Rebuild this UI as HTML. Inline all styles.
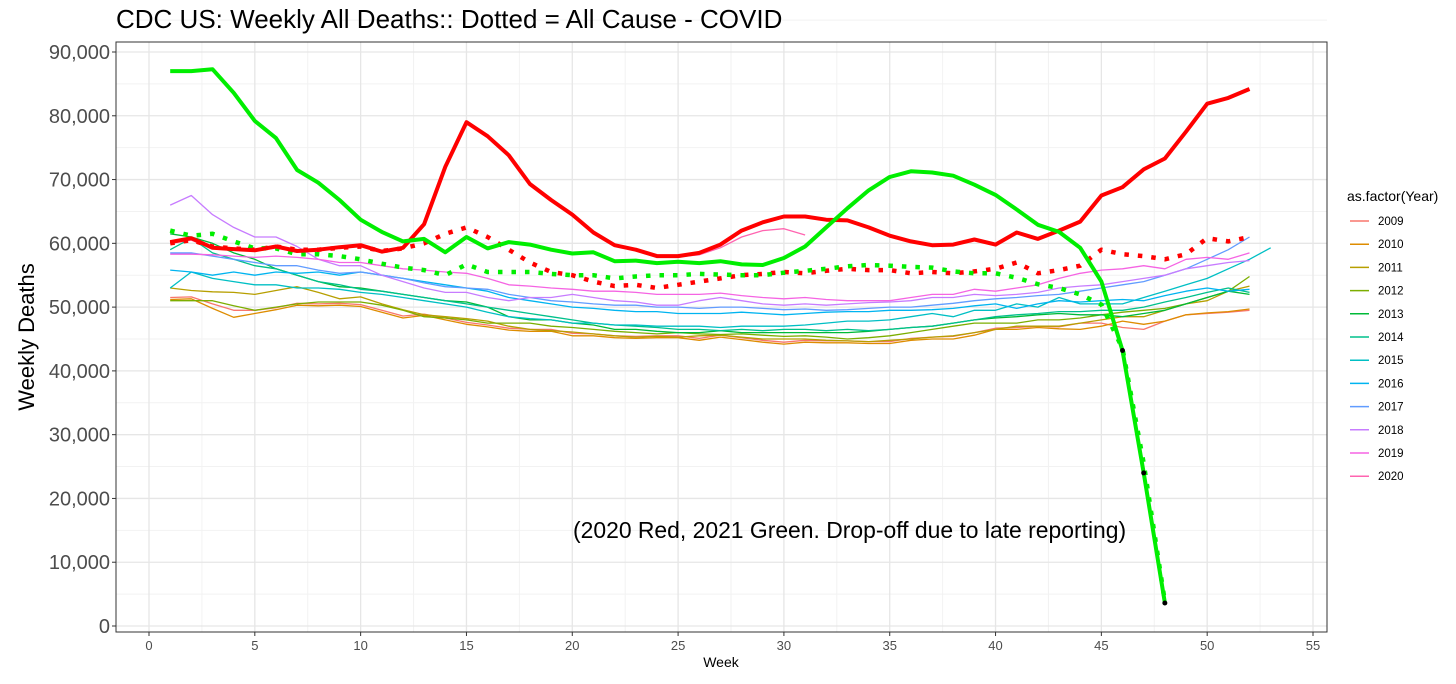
<!DOCTYPE html>
<html><head><meta charset="utf-8"><style>
body{margin:0;background:#fff;font-family:"Liberation Sans",sans-serif;}
svg text{font-family:"Liberation Sans",sans-serif;}
</style></head><body>
<svg id="c" width="1456" height="679" xmlns="http://www.w3.org/2000/svg"></svg>
<script>
const years=["2009","2010","2011","2012","2013","2014","2015","2016","2017","2018","2019","2020"];
const colors=["#F8766D","#DE8C00","#B79F00","#7CAE00","#00BA38","#00C08B","#00BFC4","#00B4F0","#619CFF","#C77CFF","#F564E3","#FF64B0"];
const y2009=[51.5,51.6,50.5,49.5,49.5,49.9,50.6,50.5,50.6,50.4,49.5,48.6,48.9,48.3,47.6,47.2,46.7,46.5,46.5,45.9,45.8,45.5,45.4,45.5,45.5,45.1,45.6,45.2,44.8,44.5,44.8,44.7,44.7,44.6,44.6,45.1,45.3,45.4,46,46.7,46.8,47,46.9,47.5,47.5,46.8,46.5,47.8,48.8,49,49.2,49.5];
const y2010=[51.2,51.3,49.8,48.4,49,49.6,50.3,50.2,50.3,50.1,49.2,48.3,48.7,48,47.3,46.9,46.4,46.2,46.2,45.5,45.5,45.2,45.1,45.2,45.2,44.8,45.3,44.9,44.5,44.2,44.5,44.4,44.4,44.3,44.3,44.8,45,45,45.6,46.5,46.5,46.8,46.6,46.5,47,47.8,47.3,47.8,48.8,49.1,49.3,49.7];
const y2011=[53,52.6,52.4,52.3,52,52.6,53.2,52.3,51.3,51.6,50.5,49.6,48.8,48.5,48.2,47.8,47,46.5,46.3,46.1,45.8,45.5,45.3,45.4,45.3,45.5,45.6,45.3,45,45,45,44.8,44.7,44.6,44.8,45,45.3,45.5,46,46.5,47,47,47,47.5,48,48.5,48.5,49.5,50.5,51,52.5,53.3];
const y2012=[51,51,51,50.2,49.5,50,50.5,50.8,50.8,50.8,50.3,49.5,48.5,48.3,48,47.5,47.5,47.5,47,46.8,46.5,46.2,46,45.8,46,45.8,45.7,45.8,45.6,45.4,45.5,45.3,45,45.2,45.5,46,46.5,47,47.5,47.5,47.5,48,48,48.3,48.8,49.2,49.5,49.8,50.5,51.5,52.5,54.8];
const y2013=[61.5,61,60,58.5,57.5,56,55,54,53.2,53,52.5,52,51.5,51,50.8,50,48.5,48,48,47.5,47.2,46.5,46.5,46.2,46,46,46.3,46,46,46,46,46,46,46.2,46.5,46.8,47,47.5,48,48.3,48.5,48.8,49,48.8,48.8,48.5,49,49.5,50.5,51.5,52.5,52];
const y2014=[59,60.8,58.5,57.5,56.5,56,55,54,53.5,52.8,52.5,52,51.5,51,50.5,50,49.5,49,48.5,48,47.5,47.2,47,46.8,46.5,46.5,46.3,46.5,46.3,46.5,46.5,46.3,46.5,46.3,46.5,46.8,47,47.5,48,48.5,48.8,49,49.3,49.3,49.5,49.5,50,50.8,51.5,52.3,53,52.3];
const y2015=[53,55.5,54.5,54,53.5,53.5,53,53,52.8,52.3,52,51.5,51,50.5,50,49.2,48.5,48.2,48,47.5,47.5,47.2,47.2,47,47,47,46.8,47,47,47,47.2,47.5,47.8,47.8,48,48.5,49,48.5,49.5,49.5,50.5,50,51.5,50.5,50.5,50.5,51.5,52.5,53.5,54.5,56,57.5,59.3];
const y2016=[55.8,55.5,55,55.5,55,55.5,55.3,55.5,55,55.5,55,54.5,54,53.5,53,52.5,51.5,51,50.5,50,49.8,49.5,49.3,49.3,49,49,49,49.2,49,48.8,49,49.2,49.3,49.3,49.5,49.5,49.6,49.8,50.2,50.5,49.8,50.5,51,50.8,51,51.2,51,51.8,52.5,53,52.5,52.8];
const y2017=[58.5,58.5,58,57.5,57,56.5,56.5,55.8,55.3,55.5,55,54.5,53.8,53.2,53,52.8,52,51.5,51,50.8,50.5,50.3,50.3,50,50,49.8,50,50,49.8,49.6,49.7,49.5,49.6,49.8,50,50,50.3,50.6,51,51.3,51.5,51.8,52,52.5,53,53.5,54,55,56,57.5,59,61];
const y2018=[66,67.5,64.5,62.5,61,61,59.5,57.5,56.5,56.5,55,54,53,52.3,52.3,51.5,51,51.5,51.5,52,51.5,51,50.8,50.3,50.3,51,51.5,51,50.5,50.3,50.5,50.3,50.5,50.7,50.8,51,51.5,51.5,52,51.8,52,52.3,53,53.3,53.5,54,54.5,55,56,56.5,57,57.3];
const y2019=[58.3,58.3,58.2,58,57.8,58,57.8,57.5,57,57,56.5,56,55.8,55.5,55.3,54.5,53.5,53.3,53,52.8,52.5,52.5,52.3,52,52,52,52.2,51.8,51.5,51.3,51.5,51.2,51,51,51,51.5,52,52,52.8,52.5,53,53.5,54.5,55.3,55.8,56,56.5,56,57.5,57.8,57.5,58.5];
const y2020thin=[60,60.5,59.2,59,58.8,59.3,58.7,58.9,59.3,59.6,58.6,59.2,62.8,71.8,78.8,76.6,73.6,69.2,66.7,64.3,61.6,59.6,58.9,57.9,57.9,58.2,59.3,61,62,62.3,61.3];
const thinSeries=[y2009,y2010,y2011,y2012,y2013,y2014,y2015,y2016,y2017,y2018,y2019,y2020thin];
const red2020=[60.2,60.8,59.3,59.1,58.9,59.5,58.8,59,59.4,59.7,58.7,59.3,63,72,79,76.8,73.8,69.3,66.8,64.5,61.7,59.7,59,58,58,58.5,59.8,62,63.3,64.2,64.2,63.7,63.6,62.5,61.2,60.3,59.7,59.8,60.6,59.8,61.7,60.7,62,63.4,67.5,68.8,71.6,73.3,77.5,81.9,82.8,84.2];
const green2021=[87,87,87.3,83.6,79.2,76.5,71.5,69.5,66.8,63.7,61.8,60.3,60.7,58.6,61,59.2,60.2,59.8,59,58.4,58.6,57.2,57.3,56.9,57.1,56.9,57.2,56.7,56.6,57.7,59.5,62.5,65.5,68.3,70.4,71.3,71.1,70.6,69.2,67.6,65.3,62.9,61.8,59.3,54,43.2,24,3.6];
const redDotted=[60,60.5,59.5,59.2,59,59.5,59,59,59.3,59.5,58.8,59.2,60,61.5,62.5,61,59,57,55.5,55,54,53.3,53.5,53,53.5,54,54.5,55,55.2,55.5,55.3,55.7,56,55.8,55.8,55.3,55.5,55.3,55.6,56,57,55.3,55.8,56.5,59,58.3,58,57.5,58.3,60.8,60.3,61];
const greenDotted=[62,61.2,61.5,60.3,59.2,59.2,58.3,58.3,58,57.5,56.8,56.2,55.8,55,56.7,55.5,55.5,55.5,55.2,55,55,54.5,54.8,55,55,55.2,55.1,55,55,55.4,55.7,56,56.4,56.6,56.5,56.3,56.2,55.6,55.3,55.3,54.6,53.6,53,52,50.4,43.5,25.5,3.8];
const xTicks=[0,5,10,15,20,25,30,35,40,45,50,55];
const yTicks=[0,10000,20000,30000,40000,50000,60000,70000,80000,90000];

const svg=document.getElementById('c');const NS="http://www.w3.org/2000/svg";
const L=116,R=1327,T=42,B=632;
const X=w=>149+w*(1313-149)/55;
const Y=v=>626-v*(626-52)/90000;
function mk(tag,attrs,parent){const e=document.createElementNS(NS,tag);for(const k in attrs)e.setAttribute(k,attrs[k]);(parent||svg).appendChild(e);return e;}
function txt(s,attrs){const e=mk('text',attrs);e.textContent=s;return e;}
for(let i=0;i<xTicks.length-1;i++){const g=mk('line',{x1:X(xTicks[i]+2.5),x2:X(xTicks[i]+2.5),y1:T,y2:B,stroke:'#f2f2f2','stroke-width':1});

}
for(let i=0;i<yTicks.length;i++){const g=mk('line',{x1:L,x2:R,y1:Y(yTicks[i]+5000),y2:Y(yTicks[i]+5000),stroke:'#f2f2f2','stroke-width':1});

}
xTicks.forEach(t=>{const g=mk('line',{x1:X(t),x2:X(t),y1:T,y2:B,stroke:'#e6e6e6','stroke-width':1.3});


mk('line',{x1:X(t),x2:X(t),y1:B,y2:B+4,stroke:'#333'});
const l=txt(String(t),{x:X(t),y:B+18,'text-anchor':'middle','font-size':13,fill:'#4d4d4d'});

});
yTicks.forEach(t=>{const g=mk('line',{x1:L,x2:R,y1:Y(t),y2:Y(t),stroke:'#e6e6e6','stroke-width':1.3});


mk('line',{x1:L-4,x2:L,y1:Y(t),y2:Y(t),stroke:'#333'});
const l=txt(t.toLocaleString('en-US'),{x:L-6,y:Y(t)+7,'text-anchor':'end','font-size':20,fill:'#4d4d4d'});

});
function path(arr,color,w,dash,name){const d=arr.map((v,i)=>(i?'L':'M')+X(i+1).toFixed(1)+','+Y(v*1000).toFixed(1)).join('');
const p=mk('path',{d:d,fill:'none',stroke:color,'stroke-width':w,'stroke-linejoin':'round'});
if(dash)p.setAttribute('stroke-dasharray',dash);

}
thinSeries.forEach((s,i)=>path(s,colors[i],1.3,null,'line-'+years[i]));
path(redDotted,'#ff0000',4.5,'4.5 9','line-2020-excl-covid');
path(greenDotted,'#00ee00',4.5,'4.5 9','line-2021-excl-covid');
path(red2020,'#ff0000',4,null,'line-2020-all-cause');
path(green2021,'#00ee00',4,null,'line-2021-all-cause');
[46,47,48].forEach(w=>{const c=mk('circle',{cx:X(w),cy:Y(green2021[w-1]*1000),r:2.5,fill:'#000'});

});
const bd=mk('rect',{x:L,y:T,width:R-L,height:B-T,fill:'none',stroke:'#333','stroke-width':1});


let e=txt('CDC US: Weekly All Deaths:: Dotted = All Cause - COVID',{x:116,y:28,'font-size':26,fill:'#000'});


e=txt('Week',{x:721,y:667,'text-anchor':'middle','font-size':14,fill:'#000'});


e=txt('Weekly Deaths',{x:0,y:0,'text-anchor':'middle','font-size':22,fill:'#000',transform:'translate(34,337) rotate(-90)'});


e=txt('(2020 Red, 2021 Green. Drop-off due to late reporting)',{x:573,y:538,'font-size':22.9,fill:'#000'});


e=txt('as.factor(Year)',{x:1347,y:201,'font-size':14,fill:'#000'});


years.forEach((yr,i)=>{const yy=221+i*23.2;
const l=mk('line',{x1:1350,x2:1369,y1:yy,y2:yy,stroke:colors[i],'stroke-width':1.5});


const t=txt(yr,{x:1378,y:yy+4,'font-size':11.5,fill:'#000'});

});
</script>
</body></html>
